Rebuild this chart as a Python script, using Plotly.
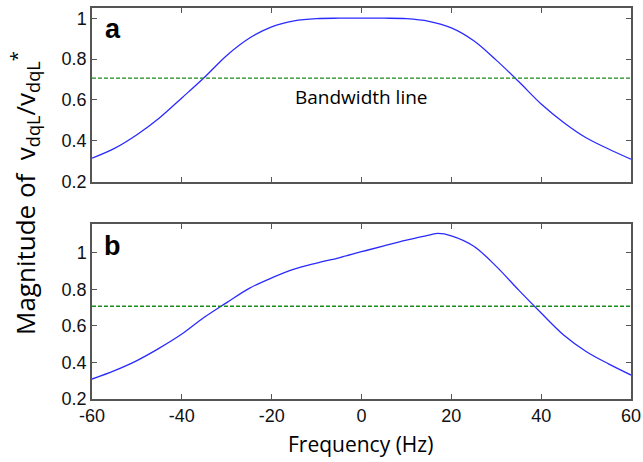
import plotly.graph_objects as go

# ---- data ----
freq_a = [-60, -55, -50, -45, -40, -35, -30, -25, -20, -15, -10, -5, 0, 5, 10, 15, 20, 25, 30, 35, 40, 45, 50, 55, 60]
mag_a = [0.315, 0.363, 0.430, 0.512, 0.610, 0.710, 0.818, 0.902, 0.958, 0.987, 0.998, 1.0, 1.0, 1.0, 0.998, 0.985,
         0.953, 0.890, 0.795, 0.690, 0.580, 0.490, 0.415, 0.360, 0.310]

freq_b = [-60, -55, -50, -45, -40, -35, -30, -25, -20, -15, -10, -5, 0, 5, 10, 15, 17, 20, 25, 30, 35, 40, 45, 50, 55, 60]
mag_b = [0.309, 0.355, 0.410, 0.478, 0.555, 0.647, 0.727, 0.805, 0.862, 0.910, 0.943, 0.972, 1.005, 1.037, 1.068,
         1.096, 1.105, 1.092, 1.035, 0.925, 0.795, 0.670, 0.550, 0.460, 0.392, 0.331]

bandwidth = 0.707
x_ticks = [-60, -40, -20, 0, 20, 40, 60]
x_ticktext = ["-60", "-40", "-20", "0", "20", "40", "60"]
y_ticks = [0.2, 0.4, 0.6, 0.8, 1.0]
y_ticktext = ["0.2", "0.4", "0.6", "0.8", "1"]

W, H = 643, 462
blue = "#2a2aff"
green = "#1a8c1a"
frame = "#555555"

fig = go.Figure()
fig.add_trace(go.Scatter(x=freq_a, y=mag_a, mode="lines", line=dict(color=blue, width=1.3, shape="spline", smoothing=1),
                         xaxis="x", yaxis="y", showlegend=False))
fig.add_trace(go.Scatter(x=[-60, 60], y=[bandwidth, bandwidth], mode="lines",
                         line=dict(color=green, width=1.3, dash="4px,2px"), xaxis="x", yaxis="y", showlegend=False))
fig.add_trace(go.Scatter(x=freq_b, y=mag_b, mode="lines", line=dict(color=blue, width=1.3, shape="spline", smoothing=1),
                         xaxis="x2", yaxis="y2", showlegend=False))
fig.add_trace(go.Scatter(x=[-60, 60], y=[bandwidth, bandwidth], mode="lines",
                         line=dict(color=green, width=1.3, dash="4px,2px"), xaxis="x2", yaxis="y2", showlegend=False))

tickfont = dict(family="Liberation Sans, Arial", size=18, color="#111111")
axcommon = dict(showline=True, linecolor=frame, linewidth=1.5, mirror="ticks", ticks="inside",
                ticklen=5, tickcolor=frame, tickwidth=1, showgrid=False, zeroline=False, tickfont=tickfont,
                automargin=False)

xl, xr = 92 / W, 631 / W
fig.update_layout(
    width=W, height=H,
    margin=dict(l=0, r=0, t=0, b=0, autoexpand=False),
    paper_bgcolor="white", plot_bgcolor="white",
    xaxis=dict(domain=[xl, xr], anchor="y", range=[-60, 60], tickvals=x_ticks, showticklabels=False, **axcommon),
    yaxis=dict(domain=[1 - 181.7 / H, 1 - 8 / H], anchor="x", range=[0.2, 1.05], tickvals=y_ticks,
               ticktext=y_ticktext, **axcommon),
    xaxis2=dict(domain=[xl, xr], anchor="y2", range=[-60, 60], tickvals=x_ticks, ticktext=x_ticktext, **axcommon),
    yaxis2=dict(domain=[1 - 399 / H, 1 - 224.3 / H], anchor="x2", range=[0.2, 1.155], tickvals=y_ticks,
                ticktext=y_ticktext, **axcommon),
)

labfont = dict(family="Liberation Sans, Arial", size=27, color="black")
textfont = dict(family="Open Sans, Lato", color="black")
ann = dict(showarrow=False, xanchor="center", yanchor="middle")
fig.add_annotation(text="<b>a</b>", x=113 / W, y=1 - 29 / H, xref="paper", yref="paper", font=labfont, **ann)
fig.add_annotation(text="<b>b</b>", x=113 / W, y=1 - 246 / H, xref="paper", yref="paper", font=labfont, **ann)
fig.add_annotation(text="Bandwidth line", x=0, y=0.615, xref="x", yref="y", font=dict(size=19, **textfont), **ann)
fig.add_annotation(text="Frequency (Hz)", x=360 / W, y=1 - 444 / H, xref="paper", yref="paper",
                   font=dict(size=21, **textfont), **ann)
fig.add_annotation(text="Magnitude of  v<sub>dqL</sub>/v<sub>dqL</sub><sup>*</sup>", x=25 / W, y=1 - 193 / H,
                   xref="paper", yref="paper", textangle=-90, font=dict(size=26, **textfont), **ann)

fig.write_html("out.html")
